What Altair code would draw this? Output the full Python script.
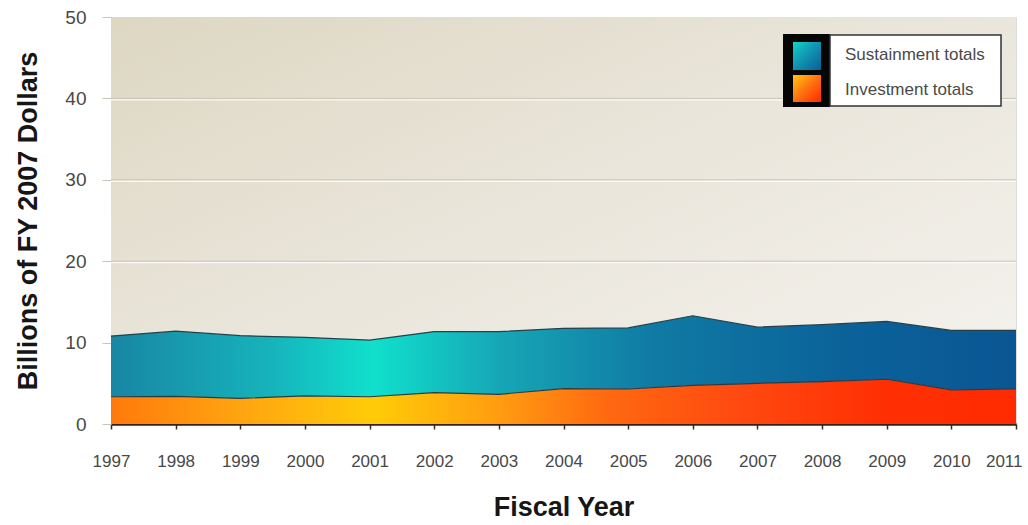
import altair as alt
import pandas as pd

# ---- data ----
years = list(range(1997, 2012))
investment = [3.35, 3.4, 3.15, 3.45, 3.35, 3.85, 3.65, 4.35, 4.3, 4.75, 5.0, 5.2, 5.5, 4.2, 4.3]
sustainment = [7.45, 8.0, 7.7, 7.2, 6.95, 7.5, 7.7, 7.4, 7.5, 8.55, 6.9, 7.0, 7.1, 7.3, 7.2]
grid_values = [10, 20, 30, 40]
y_ticks = [0, 10, 20, 30, 40, 50]
legend_labels = ["Sustainment totals", "Investment totals"]

df = pd.DataFrame({"year": years, "investment": investment, "sustainment": sustainment})
df["total"] = df["investment"] + df["sustainment"]
df["zero"] = 0.0

W, H = 905, 407
LABEL_FONT = "Liberation Sans, Arial, sans-serif"
BOLD = "Liberation Sans, Arial, sans-serif"

x_enc = alt.X("year:Q", scale=alt.Scale(domain=[1997, 2011], nice=False, zero=False),
              axis=alt.Axis(values=years, format="d", title="Fiscal Year", grid=False,
                            domain=True, domainColor="#3a1f10", domainWidth=2.5,
                            ticks=True, tickColor="#3a2a20", tickSize=5, tickWidth=1.5,
                            labelFont=LABEL_FONT, labelFontSize=17, labelColor="#484848",
                            labelPadding=24, labelFlush=False, labelOverlap=False,
                            labelAlign={"expr": "datum.value == 2011 ? 'right' : 'center'"},
                            labelOffset={"expr": "datum.value == 2011 ? 6 : 0"},
                            titleFont=BOLD, titleFontSize=27, titleFontWeight="bold",
                            titleColor="#161616", titlePadding=25))
y_scale = alt.Scale(domain=[0, 50], nice=False)
y_axis = alt.Axis(values=y_ticks, title="Billions of FY 2007 Dollars", grid=False, domain=False,
                  ticks=True, tickColor="#c8c3b6", tickSize=9, tickWidth=1,
                  labelFont=LABEL_FONT, labelFontSize=19, labelColor="#484848", labelPadding=16,
                  titleFont=BOLD, titleFontSize=27, titleFontWeight="bold",
                  titleColor="#161616", titlePadding=22)

one = pd.DataFrame({"a": [0]})

background = alt.Chart(one).mark_rect(
    color=alt.Gradient(gradient="linear", x1=0, y1=0, x2=1, y2=1,
                       stops=[alt.GradientStop(color="#ddd7c2", offset=0),
                              alt.GradientStop(color="#e9e5da", offset=0.45),
                              alt.GradientStop(color="#f6f4f0", offset=1)])
).encode(x=alt.value(0), x2=alt.value(W), y=alt.value(0), y2=alt.value(H))

gdf = pd.DataFrame({"g": grid_values})
grid = alt.Chart(gdf).mark_rule(color="#c9c5b8", strokeWidth=1).encode(
    y=alt.Y("g:Q", scale=y_scale, axis=y_axis), x=alt.value(0), x2=alt.value(W))
grid_hi = alt.Chart(gdf).mark_rule(color="#faf9f5", strokeWidth=1.2, yOffset=1.5).encode(
    y=alt.Y("g:Q"), x=alt.value(0), x2=alt.value(W))

sust_grad = alt.Gradient(gradient="linear", x1=0, y1=0, x2=1, y2=0, stops=[
    alt.GradientStop(color="#1886a4", offset=0),
    alt.GradientStop(color="#16b4bc", offset=0.18),
    alt.GradientStop(color="#10e0cc", offset=0.29),
    alt.GradientStop(color="#16a6b6", offset=0.43),
    alt.GradientStop(color="#107aa4", offset=0.6),
    alt.GradientStop(color="#0b639a", offset=0.8),
    alt.GradientStop(color="#0a5694", offset=1)])
inv_grad = alt.Gradient(gradient="linear", x1=0, y1=0, x2=1, y2=0, stops=[
    alt.GradientStop(color="#ff7a0c", offset=0),
    alt.GradientStop(color="#ffa610", offset=0.15),
    alt.GradientStop(color="#ffcc08", offset=0.29),
    alt.GradientStop(color="#ff9c10", offset=0.43),
    alt.GradientStop(color="#ff6810", offset=0.55),
    alt.GradientStop(color="#ff4810", offset=0.7),
    alt.GradientStop(color="#ff3004", offset=0.85),
    alt.GradientStop(color="#ff2a00", offset=1)])

sust_area = alt.Chart(df).mark_area(
    color=sust_grad, opacity=1, fillOpacity=1, line={"color": "#24404a", "strokeWidth": 1.2}
).encode(x=x_enc, y=alt.Y("total:Q"), y2="investment:Q")

inv_area = alt.Chart(df).mark_area(
    color=inv_grad, opacity=1, fillOpacity=1, line={"color": "#2a3a40", "strokeWidth": 1.2}
).encode(x="year:Q", y=alt.Y("investment:Q"), y2="zero:Q")

# ---- legend ----
LX, LY = 672, 17
legend_black = alt.Chart(one).mark_rect(color="#050505").encode(
    x=alt.value(LX), x2=alt.value(LX + 47), y=alt.value(LY), y2=alt.value(LY + 73))
legend_white = alt.Chart(one).mark_rect(color="#ffffff", stroke="#333333", strokeWidth=1.5).encode(
    x=alt.value(LX + 47), x2=alt.value(LX + 218), y=alt.value(LY + 1), y2=alt.value(LY + 72))
sw1 = alt.Chart(one).mark_rect(color=alt.Gradient(
    gradient="linear", x1=0, y1=0, x2=1, y2=1,
    stops=[alt.GradientStop(color="#14d2c8", offset=0), alt.GradientStop(color="#1092b0", offset=0.5),
           alt.GradientStop(color="#0a5e98", offset=1)])).encode(
    x=alt.value(LX + 10), x2=alt.value(LX + 38), y=alt.value(LY + 8), y2=alt.value(LY + 36))
sw2 = alt.Chart(one).mark_rect(color=alt.Gradient(
    gradient="linear", x1=0, y1=0, x2=1, y2=1,
    stops=[alt.GradientStop(color="#ffc810", offset=0), alt.GradientStop(color="#ff7010", offset=0.5),
           alt.GradientStop(color="#ff2a00", offset=1)])).encode(
    x=alt.value(LX + 10), x2=alt.value(LX + 38), y=alt.value(LY + 41), y2=alt.value(LY + 68))
lt1 = alt.Chart(pd.DataFrame({"label": [legend_labels[0]]})).mark_text(
    align="left", baseline="middle", font=LABEL_FONT, fontSize=17, color="#4a4a4a"
).encode(x=alt.value(LX + 62), y=alt.value(LY + 21), text="label:N")
lt2 = alt.Chart(pd.DataFrame({"label": [legend_labels[1]]})).mark_text(
    align="left", baseline="middle", font=LABEL_FONT, fontSize=17, color="#4a4a4a"
).encode(x=alt.value(LX + 62), y=alt.value(LY + 56), text="label:N")

chart = alt.layer(
    background, grid, grid_hi, sust_area, inv_area,
    legend_black, legend_white, sw1, sw2, lt1, lt2
).properties(
    width=W, height=H,
    padding={"left": 111, "top": 17, "right": 12, "bottom": 101},
    autosize=alt.AutoSizeParams(type="none")
).configure_view(
    stroke="#333333", strokeWidth=1.5
).configure(background="#ffffff")

chart.save("out.html", embed_options={"renderer": "svg", "actions": False})
